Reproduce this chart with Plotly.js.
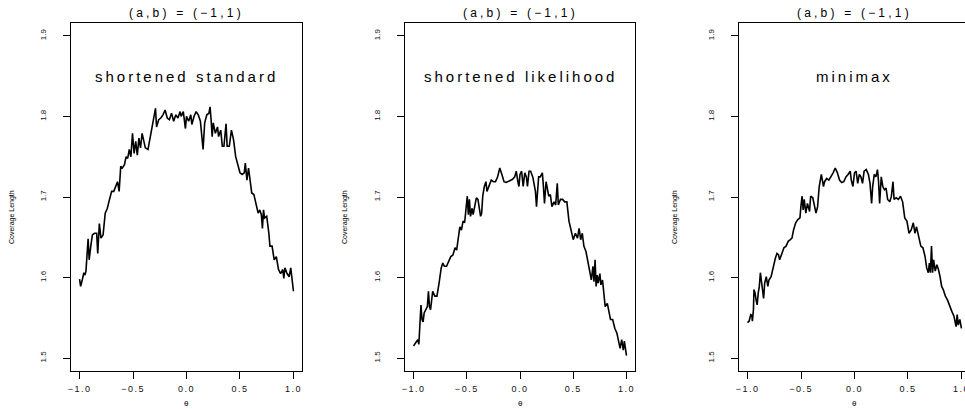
<!DOCTYPE html>
<html>
<head>
<meta charset="utf-8">
<script src="https://cdn.plot.ly/plotly-3.0.1.min.js"></script>
<style>
html, body { margin: 0; padding: 0; overflow: hidden; background: #fff; }
#chart { width: 972px; height: 409px; }
</style>
</head>
<body>
<div id="chart"></div>
<script>
// ---- data ----
const PANEL_TITLE = "(a,b) = (\u22121,1)";
const METHODS = ["shortened standard", "shortened likelihood", "minimax"];
const Y_TITLE = "Coverage Length";
const X_TITLE = "\u03b8";
const X_TICKS = [-1, -0.5, 0, 0.5, 1];
const X_TICK_LABELS = ["\u22121.0", "\u22120.5", "0.0", "0.5", "1.0"];
const Y_TICKS = [1.5, 1.6, 1.7, 1.8, 1.9];
const Y_TICK_LABELS = ["1.5", "1.6", "1.7", "1.8", "1.9"];

const theta1 = [-1.0,-0.99,-0.975,-0.96,-0.95,-0.94,-0.92,-0.91,-0.895,-0.88,-0.86,-0.84,-0.83,-0.815,-0.80,-0.78,-0.76,-0.74,-0.72,-0.70,-0.68,-0.66,-0.645,-0.63,-0.615,-0.60,-0.58,-0.565,-0.55,-0.535,-0.52,-0.505,-0.49,-0.475,-0.46,-0.445,-0.43,-0.415,-0.40,-0.385,-0.36,-0.32,-0.30,-0.29,-0.28,-0.26,-0.24,-0.22,-0.20,-0.18,-0.16,-0.14,-0.12,-0.10,-0.08,-0.06,-0.05,-0.03,-0.01,0.0,0.02,0.04,0.05,0.07,0.09,0.11,0.13,0.14,0.155,0.17,0.19,0.21,0.22,0.23,0.24,0.25,0.27,0.29,0.30,0.32,0.335,0.35,0.37,0.38,0.40,0.42,0.44,0.46,0.48,0.50,0.52,0.54,0.55,0.565,0.58,0.595,0.61,0.63,0.65,0.67,0.685,0.70,0.71,0.72,0.73,0.75,0.77,0.78,0.80,0.82,0.84,0.86,0.88,0.90,0.91,0.92,0.94,0.96,0.975,0.99,1.0];
const lenStandard = [1.598,1.589,1.597,1.606,1.603,1.608,1.648,1.622,1.639,1.653,1.655,1.655,1.630,1.667,1.649,1.653,1.680,1.686,1.697,1.707,1.707,1.713,1.719,1.707,1.738,1.736,1.740,1.750,1.748,1.759,1.750,1.779,1.754,1.769,1.752,1.773,1.761,1.779,1.771,1.761,1.759,1.787,1.802,1.810,1.787,1.796,1.798,1.802,1.808,1.798,1.796,1.804,1.794,1.802,1.798,1.806,1.800,1.806,1.785,1.800,1.794,1.802,1.790,1.800,1.806,1.802,1.794,1.783,1.759,1.792,1.802,1.804,1.812,1.796,1.775,1.792,1.779,1.787,1.775,1.783,1.763,1.763,1.791,1.763,1.763,1.783,1.771,1.750,1.740,1.730,1.728,1.730,1.742,1.721,1.736,1.719,1.705,1.703,1.692,1.680,1.684,1.678,1.661,1.684,1.674,1.676,1.655,1.639,1.639,1.622,1.626,1.610,1.605,1.610,1.599,1.612,1.605,1.601,1.612,1.597,1.583];

const theta2 = [-1.0,-0.98,-0.96,-0.95,-0.93,-0.92,-0.91,-0.90,-0.87,-0.86,-0.85,-0.84,-0.82,-0.80,-0.78,-0.76,-0.74,-0.725,-0.71,-0.69,-0.67,-0.65,-0.63,-0.61,-0.595,-0.58,-0.565,-0.55,-0.535,-0.52,-0.505,-0.495,-0.485,-0.475,-0.465,-0.45,-0.44,-0.425,-0.41,-0.395,-0.38,-0.37,-0.36,-0.35,-0.335,-0.32,-0.31,-0.29,-0.27,-0.25,-0.23,-0.21,-0.19,-0.17,-0.15,-0.13,-0.11,-0.09,-0.07,-0.05,-0.035,-0.02,-0.01,0.0,0.015,0.03,0.045,0.06,0.07,0.085,0.10,0.12,0.135,0.145,0.155,0.165,0.175,0.19,0.21,0.22,0.23,0.245,0.26,0.27,0.285,0.30,0.32,0.335,0.35,0.36,0.38,0.40,0.42,0.44,0.46,0.48,0.50,0.52,0.54,0.555,0.57,0.585,0.60,0.62,0.64,0.655,0.67,0.685,0.695,0.705,0.715,0.725,0.735,0.75,0.76,0.775,0.79,0.80,0.82,0.84,0.85,0.87,0.89,0.91,0.93,0.94,0.955,0.97,0.98,0.99,1.0];
const lenLikelihood = [1.515,1.519,1.523,1.517,1.566,1.548,1.545,1.556,1.564,1.583,1.564,1.560,1.583,1.577,1.577,1.593,1.612,1.618,1.614,1.614,1.620,1.626,1.628,1.637,1.634,1.651,1.663,1.659,1.670,1.668,1.684,1.701,1.678,1.697,1.676,1.686,1.678,1.688,1.699,1.697,1.680,1.676,1.680,1.701,1.713,1.719,1.707,1.715,1.721,1.719,1.719,1.725,1.736,1.728,1.719,1.718,1.719,1.721,1.722,1.725,1.732,1.719,1.713,1.728,1.732,1.713,1.730,1.725,1.713,1.732,1.732,1.725,1.713,1.707,1.688,1.709,1.725,1.725,1.730,1.713,1.692,1.719,1.709,1.701,1.703,1.688,1.694,1.690,1.717,1.690,1.697,1.697,1.694,1.694,1.670,1.659,1.647,1.655,1.649,1.661,1.647,1.655,1.639,1.632,1.618,1.610,1.597,1.614,1.595,1.622,1.589,1.603,1.593,1.605,1.591,1.597,1.581,1.564,1.568,1.556,1.548,1.548,1.537,1.531,1.519,1.512,1.523,1.510,1.521,1.512,1.503];

const theta3 = [-1.0,-0.985,-0.97,-0.96,-0.955,-0.945,-0.94,-0.93,-0.92,-0.91,-0.90,-0.89,-0.88,-0.87,-0.86,-0.85,-0.84,-0.825,-0.81,-0.80,-0.78,-0.76,-0.74,-0.725,-0.71,-0.70,-0.68,-0.66,-0.64,-0.62,-0.60,-0.585,-0.57,-0.55,-0.53,-0.51,-0.50,-0.49,-0.48,-0.47,-0.455,-0.44,-0.42,-0.41,-0.39,-0.375,-0.36,-0.345,-0.33,-0.31,-0.30,-0.29,-0.28,-0.26,-0.24,-0.22,-0.20,-0.18,-0.16,-0.14,-0.12,-0.10,-0.08,-0.06,-0.04,-0.03,-0.015,0.0,0.015,0.03,0.045,0.06,0.075,0.09,0.11,0.13,0.145,0.16,0.17,0.185,0.20,0.215,0.225,0.235,0.25,0.265,0.28,0.295,0.31,0.33,0.345,0.36,0.37,0.39,0.41,0.43,0.45,0.47,0.49,0.51,0.53,0.55,0.565,0.58,0.60,0.62,0.64,0.66,0.675,0.69,0.70,0.71,0.72,0.73,0.74,0.755,0.77,0.785,0.80,0.815,0.83,0.85,0.87,0.89,0.91,0.93,0.95,0.96,0.97,0.985,1.0];
const lenMinimax = [1.544,1.546,1.554,1.553,1.546,1.560,1.585,1.581,1.572,1.566,1.581,1.589,1.606,1.597,1.585,1.574,1.593,1.601,1.589,1.597,1.601,1.614,1.624,1.630,1.628,1.622,1.630,1.637,1.639,1.645,1.647,1.649,1.659,1.668,1.672,1.674,1.690,1.701,1.684,1.697,1.680,1.692,1.682,1.701,1.699,1.688,1.680,1.688,1.713,1.728,1.721,1.713,1.719,1.723,1.721,1.725,1.730,1.736,1.730,1.721,1.718,1.719,1.725,1.728,1.732,1.721,1.713,1.730,1.732,1.717,1.728,1.725,1.717,1.732,1.734,1.728,1.717,1.692,1.713,1.728,1.725,1.734,1.719,1.692,1.725,1.713,1.709,1.711,1.697,1.694,1.701,1.719,1.697,1.699,1.697,1.701,1.694,1.674,1.670,1.655,1.659,1.668,1.655,1.663,1.649,1.639,1.637,1.626,1.612,1.606,1.618,1.606,1.639,1.606,1.622,1.608,1.616,1.610,1.601,1.589,1.585,1.577,1.572,1.564,1.558,1.552,1.539,1.554,1.541,1.548,1.537];

const XS = [theta1, theta2, theta3];
const YS = [lenStandard, lenLikelihood, lenMinimax];

// ---- layout ----
const W = 972, H = 409;
const FONT = "Liberation Sans, Arial, Helvetica, sans-serif";
const boxes = [[71, 302], [405, 635], [739, 970]];
const yTitleX = [12, 345, 675];
const spaced = (s, px) => '<span style="letter-spacing:' + px + 'px">' + s + '</span>';

const data = [];
const layout = {
  width: W, height: H,
  margin: {l: 0, r: 0, t: 23, b: 38, pad: 0},
  paper_bgcolor: "#ffffff", plot_bgcolor: "#ffffff",
  showlegend: false,
  font: {family: FONT, color: "#000"},
  annotations: []
};

for (let i = 0; i < 3; i++) {
  const sx = i === 0 ? "" : String(i + 1);
  data.push({
    x: XS[i], y: YS[i], type: "scatter", mode: "lines",
    xaxis: "x" + sx, yaxis: "y" + sx,
    line: {color: "#000", width: 1.6}, hoverinfo: "skip"
  });
  const common = {
    showgrid: false, zeroline: false, showline: true, mirror: true,
    linecolor: "#000", linewidth: 1, ticks: "outside", ticklen: 7,
    tickcolor: "#000", tickwidth: 1, fixedrange: true
  };
  layout["xaxis" + sx] = Object.assign({}, common, {
    domain: [boxes[i][0] / W, boxes[i][1] / W],
    anchor: "y" + sx,
    range: [-1.08, 1.08],
    tickmode: "array", tickvals: X_TICKS,
    ticktext: X_TICK_LABELS.map(t => spaced(t, 1.5)),
    tickfont: {family: FONT, size: 9, color: "#111"},
    ticklabelstandoff: 2
  });
  layout["yaxis" + sx] = Object.assign({}, common, {
    domain: [0, 1],
    anchor: "x" + sx,
    range: [1.484, 1.916],
    tickmode: "array", tickvals: Y_TICKS, ticktext: Y_TICK_LABELS,
    tickangle: -90,
    tickfont: {family: FONT, size: 8, color: "#111"},
    ticklabelstandoff: 14
  });
  const cx = (boxes[i][0] + boxes[i][1]) / 2 / W;
  layout.annotations.push({
    xref: "paper", yref: "paper", x: cx, y: 1, yshift: 10,
    xanchor: "center", yanchor: "middle", showarrow: false,
    text: spaced(PANEL_TITLE, 3.2), font: {family: FONT, size: 12, color: "#000"}
  });
  layout.annotations.push({
    xref: "x" + sx, yref: "y" + sx, x: 0, y: 1.849,
    xanchor: "center", yanchor: "middle", showarrow: false,
    text: spaced(METHODS[i], 3), font: {family: FONT, size: 15, color: "#000"}
  });
  layout.annotations.push({
    xref: "paper", yref: "paper", x: yTitleX[i] / W, y: 154 / 348,
    xanchor: "center", yanchor: "middle", showarrow: false, textangle: -90,
    text: Y_TITLE, font: {family: FONT, size: 7, color: "#000"}
  });
  layout.annotations.push({
    xref: "x" + sx, yref: "paper", x: 0, y: 0, yshift: -32,
    xanchor: "center", yanchor: "middle", showarrow: false,
    text: X_TITLE, font: {family: FONT, size: 8, color: "#000"}
  });
}

Plotly.newPlot("chart", data, layout, {displayModeBar: false, staticPlot: true});
</script>
</body>
</html>
